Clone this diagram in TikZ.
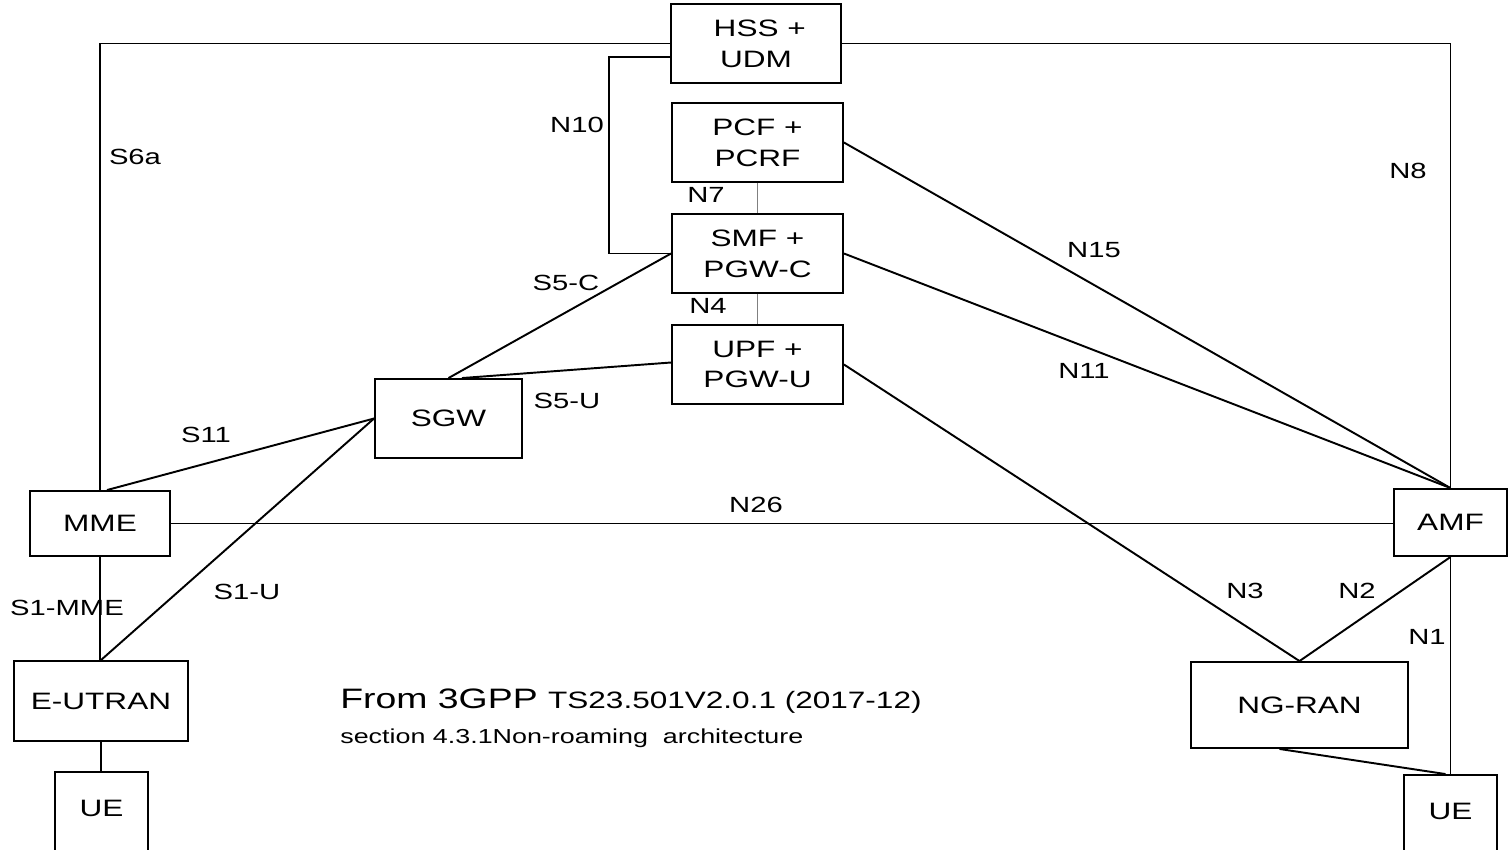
\documentclass[tikz,border=0pt]{standalone}
\usepackage{fontspec}
\setmainfont[FakeStretch=1.33]{Liberation Sans}
\usetikzlibrary{positioning}
\tikzset{
	nf/.style={draw, line width=1.1pt, align=center, inner sep=0pt, font=\fontsize{13.5}{17.5}\selectfont},
	uebox/.style={nf, minimum width=1.86cm, minimum height=1.8cm, text depth=0.36cm},
	link/.style={line width=1.1pt},
	thinlink/.style={line width=0.6pt, gray},
	lbl/.style={inner sep=0pt, font=\fontsize{12.5}{14}\selectfont},
}
\begin{document}
\begin{tikzpicture}[x=0.02cm, y=-0.02cm]
	\useasboundingbox (0,0) rectangle (1508,849);
	\node[nf, minimum width=3.4cm, minimum height=1.58cm] (hss) at (756,43.5) {\hspace{0.15cm}HSS +\\UDM};
	\node[nf, minimum width=3.42cm, minimum height=1.58cm] (pcf) at (757.5,142.5) {PCF +\\PCRF};
	\node[nf, minimum width=3.42cm, minimum height=1.58cm] (smf) at (757.5,253.5) {SMF +\\PGW-C};
	\node[nf, minimum width=3.42cm, minimum height=1.58cm] (upf) at (757.5,364.5) {UPF +\\PGW-U};
	\node[nf, minimum width=2.94cm, minimum height=1.58cm] (sgw) at (448.5,418.5) {SGW};
	\node[nf, minimum width=2.8cm, minimum height=1.3cm] (mme) at (100,523.5) {MME};
	\node[nf, minimum width=3.48cm, minimum height=1.6cm] (eutran) at (101,701) {E-UTRAN};
	\node[uebox] (ueleft) at (101.5,817) {UE};
	\node[nf, minimum width=2.26cm, minimum height=1.34cm] (amf) at (1450.5,522.5) {AMF};
	\node[nf, minimum width=4.34cm, minimum height=1.72cm] (ngran) at (1299.5,705) {NG-RAN};
	\node[uebox] (ueright) at (1450.5,820) {UE};

	\draw[link] (mme.north) |- (hss.west);
	\draw[link] (hss.east) -| (amf.north);
	\draw[link] ([yshift=-0.27cm]hss.west) -- ++(-61,0) |- (smf.west);
	\draw[thinlink] (pcf.south) -- (smf.north);
	\draw[thinlink] (smf.south) -- (upf.north);
	\draw[link] (pcf.east) -- (amf.north);
	\draw[link] (smf.east) -- (amf.north);
	\draw[link] (smf.west) -- (sgw.north);
	\draw[link] ([yshift=0.04cm]upf.west) -- ([xshift=0.27cm]sgw.north);
	\draw[link] ([xshift=0.14cm]mme.north) -- (sgw.west);
	\draw[link] (eutran.north) -- (sgw.west);
	\draw[link] (mme.south) -- (mme.south |- eutran.north);
	\draw[link] (eutran.south) -- (eutran.south |- ueleft.north);
	\draw[link] (mme.east) -- (mme.east -| amf.west);
	\draw[link] (upf.east) -- (ngran.north);
	\draw[link] (amf.south) -- (ngran.north);
	\draw[link] (amf.south) -- (ueright.north);
	\draw[link] ([xshift=-0.4cm]ngran.south) -- ([xshift=-0.1cm]ueright.north);

	\node[lbl] (s6a) at (135,157) {S6a};
	\node[lbl] (n10) at (577,125) {N10};
	\node[lbl] (n7) at (706,195) {N7};
	\node[lbl] (n4) at (708,306) {N4};
	\node[lbl] (s5c) at (566,283) {S5-C};
	\node[lbl] (s5u) at (567,401) {S5-U};
	\node[lbl] (s11) at (206,435) {S11};
	\node[lbl] (n26) at (756,505) {N26};
	\node[lbl] (s1u) at (247,592) {S1-U};
	\node[lbl] (s1mme) at (67,608) {S1-MME};
	\node[lbl] (n8) at (1408,171) {N8};
	\node[lbl] (n15) at (1094,250) {N15};
	\node[lbl] (n11) at (1084,371) {N11};
	\node[lbl] (n3) at (1245,591) {N3};
	\node[lbl] (n2) at (1357,591) {N2};
	\node[lbl] (n1) at (1427,637) {N1};

	\node[anchor=base west, inner sep=0pt] (src) at (340,708) {\fontsize{16}{18}\selectfont From 3GPP \fontsize{13.5}{16}\selectfont TS23.501V2.0.1 (2017-12)};
	\node[anchor=base west, inner sep=0pt, font=\fontsize{11.5}{14}\selectfont] (sect) at (340,743) {section 4.3.1Non-roaming\ \ architecture};
\end{tikzpicture}
\end{document}
